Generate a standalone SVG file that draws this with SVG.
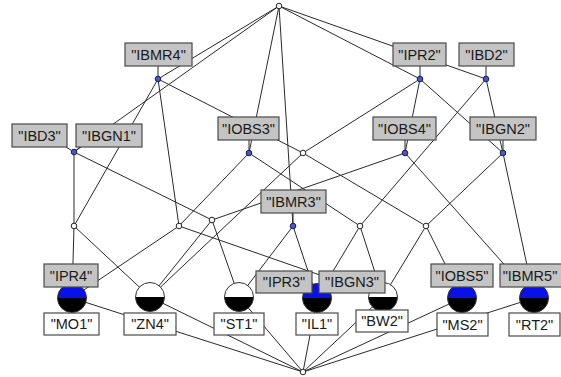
<svg xmlns="http://www.w3.org/2000/svg" width="561" height="377" viewBox="0 0 561 377">
<style>
.e{stroke:#2a2a2a;stroke-width:1;fill:none}
.st{stroke:#2a2a2a;stroke-width:1}
.pn{fill:#fff;stroke:#222;stroke-width:1}
.an{fill:#4a58c8;stroke:#1a1a5a;stroke-width:1}
.ab{fill:#c4c4c4;stroke:#4a4a4a;stroke-width:1.2}
.ob{fill:#fff;stroke:#4a4a4a;stroke-width:1.2}
.t{font-family:"Liberation Sans",Arial,sans-serif;font-size:14.5px;fill:#1a1a1a;text-anchor:middle}
.ring{stroke:#333;stroke-width:1}
</style>
<defs>
<clipPath id="topHalf"><rect x="-20" y="-20" width="40" height="20"/></clipPath>
<clipPath id="botHalf"><rect x="-20" y="0" width="40" height="20"/></clipPath>
<g id="objW">
<circle r="14.5" fill="#fff" clip-path="url(#topHalf)"/>
<circle r="14.5" fill="#000" clip-path="url(#botHalf)"/>
<circle r="14.5" fill="none" class="ring"/>
</g>
<g id="objB">
<circle r="14.5" fill="#0a10e8" clip-path="url(#topHalf)"/>
<circle r="14.5" fill="#000" clip-path="url(#botHalf)"/>
<circle r="14.5" fill="none" class="ring"/>
</g>
</defs>
<rect width="561" height="377" fill="#fff"/>
<g id="connectors">
<line class="e" x1="279" y1="6" x2="158" y2="79"/>
<line class="e" x1="279" y1="6" x2="420" y2="79"/>
<line class="e" x1="279" y1="6" x2="486" y2="79"/>
<line class="e" x1="279" y1="6" x2="74" y2="152"/>
<line class="e" x1="279" y1="6" x2="249" y2="153"/>
<line class="e" x1="279" y1="6" x2="293" y2="226"/>
<line class="e" x1="158" y1="79" x2="74" y2="226"/>
<line class="e" x1="158" y1="79" x2="179" y2="226"/>
<line class="e" x1="158" y1="79" x2="303" y2="153"/>
<line class="e" x1="420" y1="79" x2="303" y2="153"/>
<line class="e" x1="420" y1="79" x2="405" y2="153"/>
<line class="e" x1="420" y1="79" x2="503" y2="153"/>
<line class="e" x1="486" y1="79" x2="503" y2="153"/>
<line class="e" x1="486" y1="79" x2="360" y2="226"/>
<line class="e" x1="74" y1="152" x2="74" y2="226"/>
<line class="e" x1="74" y1="152" x2="212" y2="220"/>
<line class="e" x1="249" y1="153" x2="179" y2="226"/>
<line class="e" x1="249" y1="153" x2="360" y2="226"/>
<line class="e" x1="303" y1="153" x2="150" y2="297"/>
<line class="e" x1="303" y1="153" x2="426" y2="226"/>
<line class="e" x1="405" y1="153" x2="212" y2="220"/>
<line class="e" x1="405" y1="153" x2="534" y2="298"/>
<line class="e" x1="503" y1="153" x2="426" y2="226"/>
<line class="e" x1="503" y1="153" x2="534" y2="298"/>
<line class="e" x1="74" y1="226" x2="72" y2="298"/>
<line class="e" x1="74" y1="226" x2="150" y2="297"/>
<line class="e" x1="179" y1="226" x2="72" y2="298"/>
<line class="e" x1="179" y1="226" x2="383" y2="297"/>
<line class="e" x1="212" y1="220" x2="150" y2="297"/>
<line class="e" x1="212" y1="220" x2="239" y2="297"/>
<line class="e" x1="293" y1="226" x2="239" y2="297"/>
<line class="e" x1="293" y1="226" x2="317" y2="298"/>
<line class="e" x1="360" y1="226" x2="317" y2="298"/>
<line class="e" x1="360" y1="226" x2="383" y2="297"/>
<line class="e" x1="426" y1="226" x2="383" y2="297"/>
<line class="e" x1="426" y1="226" x2="462" y2="298"/>
<line class="e" x1="72" y1="298" x2="303" y2="372"/>
<line class="e" x1="150" y1="297" x2="303" y2="372"/>
<line class="e" x1="239" y1="297" x2="303" y2="372"/>
<line class="e" x1="317" y1="298" x2="303" y2="372"/>
<line class="e" x1="383" y1="297" x2="303" y2="372"/>
<line class="e" x1="462" y1="298" x2="303" y2="372"/>
<line class="e" x1="534" y1="298" x2="303" y2="372"/>
<line class="st" x1="158" y1="66" x2="158" y2="79"/>
<line class="st" x1="420" y1="66" x2="420" y2="79"/>
<line class="st" x1="486" y1="66" x2="486" y2="79"/>
<line class="st" x1="66" y1="147" x2="74" y2="152"/>
<line class="st" x1="80" y1="147" x2="74" y2="152"/>
<line class="st" x1="249" y1="140" x2="249" y2="153"/>
<line class="st" x1="405" y1="140" x2="405" y2="153"/>
<line class="st" x1="503" y1="140" x2="503" y2="153"/>
<line class="st" x1="293" y1="213" x2="293" y2="226"/>
</g>
<g id="top"><circle class="pn" cx="279" cy="6" r="2.8"/></g>
<g id="bottom"><circle class="pn" cx="303" cy="372" r="2.8"/></g>
<g id="c_IBMR4"><circle class="an" cx="158" cy="79" r="2.8"/></g>
<g id="c_IPR2"><circle class="an" cx="420" cy="79" r="2.8"/></g>
<g id="c_IBD2"><circle class="an" cx="486" cy="79" r="2.8"/></g>
<g id="c_IBD3_IBGN1"><circle class="an" cx="74" cy="152" r="2.8"/></g>
<g id="c_IOBS3"><circle class="an" cx="249" cy="153" r="2.8"/></g>
<g id="n_F"><circle class="pn" cx="303" cy="153" r="2.8"/></g>
<g id="c_IOBS4"><circle class="an" cx="405" cy="153" r="2.8"/></g>
<g id="c_IBGN2"><circle class="an" cx="503" cy="153" r="2.8"/></g>
<g id="n_I"><circle class="pn" cx="74" cy="226" r="2.8"/></g>
<g id="n_J"><circle class="pn" cx="179" cy="226" r="2.8"/></g>
<g id="n_K"><circle class="pn" cx="212" cy="220" r="2.8"/></g>
<g id="c_IBMR3"><circle class="an" cx="293" cy="226" r="2.8"/></g>
<g id="n_M"><circle class="pn" cx="360" cy="226" r="2.8"/></g>
<g id="n_N"><circle class="pn" cx="426" cy="226" r="2.8"/></g>
<g id="o_MO1"><use href="#objB" x="72" y="298"/></g>
<g id="o_ZN4"><use href="#objW" x="150" y="297"/></g>
<g id="o_ST1"><use href="#objW" x="239" y="297"/></g>
<g id="o_IL1"><use href="#objB" x="317" y="298"/></g>
<g id="o_BW2"><use href="#objW" x="383" y="297"/></g>
<g id="o_MS2"><use href="#objB" x="462" y="298"/></g>
<g id="o_RT2"><use href="#objB" x="534" y="298"/></g>
<g id="labels">
<g id="l_IBMR4"><rect class="ab" x="125" y="43" width="67" height="23"/><text class="t" x="158.5" y="59.5">"IBMR4"</text></g>
<g id="l_IPR2"><rect class="ab" x="393" y="43" width="53" height="23"/><text class="t" x="419.5" y="59.5">"IPR2"</text></g>
<g id="l_IBD2"><rect class="ab" x="459" y="43" width="55" height="23"/><text class="t" x="486.5" y="59.5">"IBD2"</text></g>
<g id="l_IBD3"><rect class="ab" x="12" y="124" width="55" height="23"/><text class="t" x="39.5" y="140.5">"IBD3"</text></g>
<g id="l_IBGN1"><rect class="ab" x="76" y="124" width="66" height="23"/><text class="t" x="109" y="140.5">"IBGN1"</text></g>
<g id="l_IOBS3"><rect class="ab" x="218" y="117" width="61" height="23"/><text class="t" x="248.5" y="133.5">"IOBS3"</text></g>
<g id="l_IOBS4"><rect class="ab" x="373" y="117" width="63" height="23"/><text class="t" x="404.5" y="133.5">"IOBS4"</text></g>
<g id="l_IBGN2"><rect class="ab" x="470" y="117" width="66" height="23"/><text class="t" x="503" y="133.5">"IBGN2"</text></g>
<g id="l_IBMR3"><rect class="ab" x="261" y="190" width="65" height="23"/><text class="t" x="293.5" y="206.5">"IBMR3"</text></g>
<g id="l_IPR4"><rect class="ab" x="44" y="264" width="54" height="23"/><text class="t" x="71" y="280.5">"IPR4"</text></g>
<g id="l_IPR3"><rect class="ab" x="256" y="271" width="56" height="22"/><text class="t" x="284" y="287">"IPR3"</text></g>
<g id="l_IBGN3"><rect class="ab" x="319" y="271" width="66" height="22"/><text class="t" x="352" y="287">"IBGN3"</text></g>
<g id="l_IOBS5"><rect class="ab" x="431" y="264" width="62" height="23"/><text class="t" x="462" y="280.5">"IOBS5"</text></g>
<g id="l_IBMR5"><rect class="ab" x="500" y="264" width="62" height="23"/><text class="t" x="530" y="280.5">"IBMR5"</text></g>
<g id="l_MO1"><rect class="ob" x="44" y="313" width="55" height="22"/><text class="t" x="71.5" y="329">"MO1"</text></g>
<g id="l_ZN4"><rect class="ob" x="124" y="313" width="52" height="22"/><text class="t" x="150" y="329">"ZN4"</text></g>
<g id="l_ST1"><rect class="ob" x="214" y="313" width="50" height="22"/><text class="t" x="239" y="329">"ST1"</text></g>
<g id="l_IL1"><rect class="ob" x="296" y="313" width="42" height="22"/><text class="t" x="317" y="329">"IL1"</text></g>
<g id="l_BW2"><rect class="ob" x="356" y="310" width="52" height="22"/><text class="t" x="382" y="326">"BW2"</text></g>
<g id="l_MS2"><rect class="ob" x="437" y="313" width="51" height="23"/><text class="t" x="462.5" y="329.5">"MS2"</text></g>
<g id="l_RT2"><rect class="ob" x="509" y="313" width="51" height="23"/><text class="t" x="534.5" y="329.5">"RT2"</text></g>
</g>
</svg>
